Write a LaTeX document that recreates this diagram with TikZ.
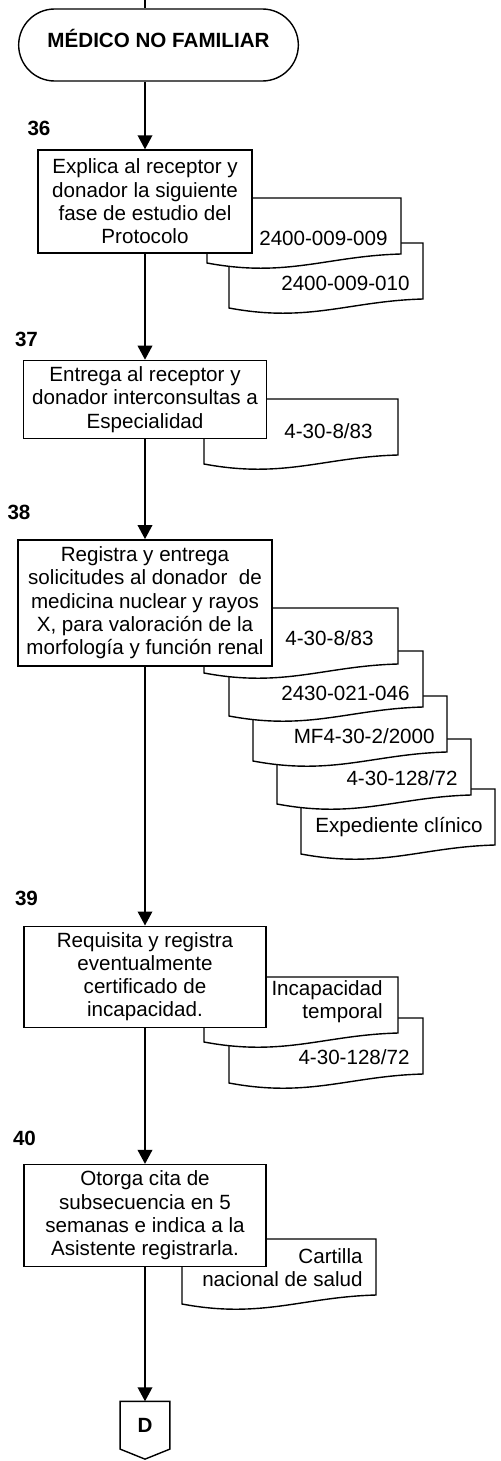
\documentclass[tikz,border=0pt]{standalone}
\usepackage{fontspec}
\setmainfont{Liberation Sans}
\usetikzlibrary{shapes.misc,positioning,backgrounds,arrows.meta}

\newcommand{\fsize}{\fontsize{10.3}{11.65}\selectfont}

\tikzset{
  proc/.style={draw, fill=white, line width=0.7pt, align=center, inner sep=0pt},
  term/.style={rounded rectangle, draw, fill=white, line width=0.7pt,
    font=\fsize\bfseries, minimum width=146.5pt, minimum height=36pt,
    text height=8pt, text depth=5.6pt},
  num/.style={font=\fsize\bfseries, inner sep=0pt},
  docline/.style={draw, fill=white, line width=0.7pt},
  doctext/.style={anchor=east, align=right, inner sep=0pt},
  flow/.style={-{Triangle[length=7pt,width=7.3pt]}, line width=0.8pt},
}

% document symbol: name, x, y (top left), text x, text y, text
\newcommand{\docu}[6]{%
  \begin{scope}[shift={(#2,#3)}]
    \path[docline] (0,0) -- (194,0) -- (194,56)
      .. controls (120,58) and (80,80) .. (0,65) -- cycle;
    \node[doctext] (#1) at (#4,#5) {#6};
  \end{scope}}

\begin{document}
\begin{tikzpicture}[x=0.5pt, y=-0.5pt, font=\fsize]
\useasboundingbox (0,0) rectangle (501,1461);

\coordinate (top) at (145,0);
\node[term] (medico) at (158.5,45) {MÉDICO NO FAMILIAR};

\node[proc, minimum width=107pt, minimum height=51.5pt] (p36) at (145,201.5)
  {Explica al receptor y\\donador la siguiente\\fase de estudio del\\Protocolo};
\node[proc, minimum width=121.5pt, minimum height=39pt, below=53pt of p36] (p37)
  {Entrega al receptor y\\donador interconsultas a\\Especialidad};
\node[proc, minimum width=127pt, minimum height=63pt, below=50pt of p37] (p38)
  {Registra y entrega\\solicitudes al donador~ de\\medicina nuclear y rayos\\X, para valoración de la\\morfología y función renal};
\node[proc, minimum width=121pt, minimum height=50.5pt, below=129.5pt of p38] (p39)
  {Requisita y registra\\eventualmente\\certificado de\\incapacidad.};
\node[proc, minimum width=121pt, minimum height=51pt, below=68pt of p39] (p40)
  {Otorga cita de\\subsecuencia en 5\\semanas e indica a la\\Asistente registrarla.};
\node[num, minimum width=24.5pt, minimum height=23.5pt, below=67pt of p40] (conD) {D};
\draw[line width=0.7pt] (conD.north west) -- (conD.north east) -- (conD.south east)
  -- ([yshift=-5pt]conD.south) -- (conD.south west) -- cycle;

% step numbers
\node[num] (n36) at (39,128) {36};
\node[num] (n37) at (26.5,339) {37};
\node[num] (n38) at (19,512) {38};
\node[num] (n39) at (26.5,898) {39};
\node[num] (n40) at (24.5,1138) {40};

% flow
\draw[line width=0.8pt] (top) -- (top |- medico.north);
\draw[flow] (p36.north |- medico.south) -- (p36);
\draw[flow] (p36) -- (p37);
\draw[flow] (p37) -- (p38);
\draw[flow] (p38) -- (p39);
\draw[flow] (p39) -- (p40);
\draw[flow] (p40) -- (conD);

% forms
\begin{scope}[on background layer]
  \docu{d36b}{229}{243}{181}{40}{2400-009-010}
  \docu{d36a}{207}{198}{181}{40}{2400-009-009}
  \docu{d37}{204}{399}{169}{32}{4-30-8/83}
  \docu{d38e}{301}{789}{182}{38}{Expediente clínico}
  \docu{d38d}{277}{739}{181}{39}{4-30-128/72}
  \docu{d38c}{253}{696}{182}{40}{MF4-30-2/2000}
  \docu{d38b}{229}{651}{181}{42}{2430-021-046}
  \docu{d38a}{204}{608}{170}{30}{4-30-8/83}
  \docu{d39b}{229}{1018}{181}{39}{4-30-128/72}
  \docu{d39a}{204}{977}{179}{25}{Incapacidad\\temporal}
  \docu{d40}{182}{1239}{181}{28.5}{Cartilla\\nacional de salud}
\end{scope}
\end{tikzpicture}
\end{document}
